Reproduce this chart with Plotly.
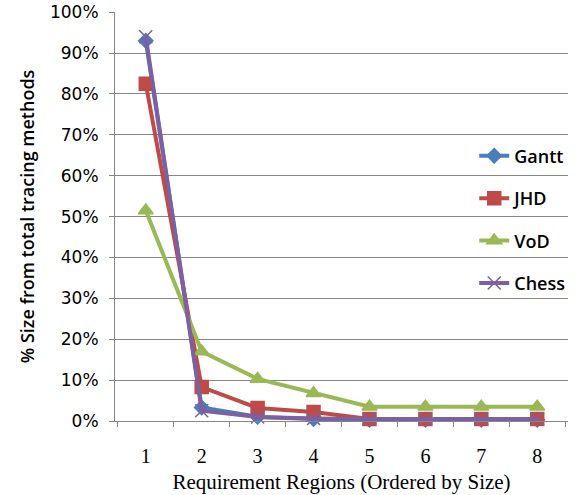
import plotly.graph_objects as go

categories = ["1", "2", "3", "4", "5", "6", "7", "8"]
gantt = [93, 3.3, 1.0, 0.5, 0.3, 0.3, 0.3, 0.3]
jhd = [82.5, 8.3, 3.2, 2.2, 0.5, 0.5, 0.5, 0.5]
vod = [51.5, 17, 10.3, 6.8, 3.5, 3.5, 3.5, 3.5]
chess = [94, 2.5, 1.0, 0.6, 0.5, 0.5, 0.5, 0.5]
yticks = [0, 10, 20, 30, 40, 50, 60, 70, 80, 90, 100]
yticklabels = [f"{v}%" for v in yticks]

series = [
    ("Gantt", gantt, "#4A7EBB", "diamond", 11),
    ("JHD", jhd, "#BE4B48", "square", 13),
    ("VoD", vod, "#98B954", "triangle-up", 13),
    ("Chess", chess, "#7D60A0", "x-thin-open", 13),
]

fig = go.Figure()
for i, (name, vals, color, sym, size) in enumerate(series):
    fig.add_trace(go.Scatter(
        x=categories, y=vals, name=name, mode="lines+markers",
        line=dict(color=color, width=4),
        marker=dict(symbol=sym, size=size, color=color,
                    line=dict(color=color, width=1.5)),
        legendgroup=f"g{i}", cliponaxis=False,
    ))

fig.update_layout(
    width=578, height=495,
    margin=dict(l=115, r=8, t=12, b=74),
    paper_bgcolor="white", plot_bgcolor="white",
    legend=dict(x=0.793, y=0.693, xanchor="left", yanchor="top",
                bgcolor="rgba(0,0,0,0)", tracegroupgap=16,
                font=dict(family="Open Sans", size=18, color="#000", weight=600)),
    showlegend=True,
)
fig.update_xaxes(
    type="category", tickson="boundaries", ticks="outside", ticklen=5,
    tickcolor="#868686", showline=True, linecolor="#868686", linewidth=1,
    showgrid=False, ticklabelstandoff=17, automargin=False,
    tickfont=dict(family="Liberation Serif", size=20, color="#000"),
    title=dict(text="Requirement Regions (Ordered by Size)",
               font=dict(family="Liberation Serif", size=21, color="#000"),
               standoff=8),
)
fig.update_yaxes(
    range=[0, 100.05], tickvals=yticks, ticktext=yticklabels,
    ticks="outside", ticklen=5, tickcolor="#868686",
    showline=True, linecolor="#868686", linewidth=1,
    showgrid=True, gridcolor="#868686", gridwidth=1, zeroline=False,
    ticklabelstandoff=7, automargin=False, ticklabeloverflow="allow",
    tickfont=dict(family="DejaVu Sans", size=17, color="#000"),
    title=dict(text="% Size from total tracing methods",
               font=dict(family="Open Sans", size=18, color="#000", weight=600),
               standoff=10),
)

fig.write_html("out.html", config={"displayModeBar": False},
               post_script="document.body.style.margin='0';")
